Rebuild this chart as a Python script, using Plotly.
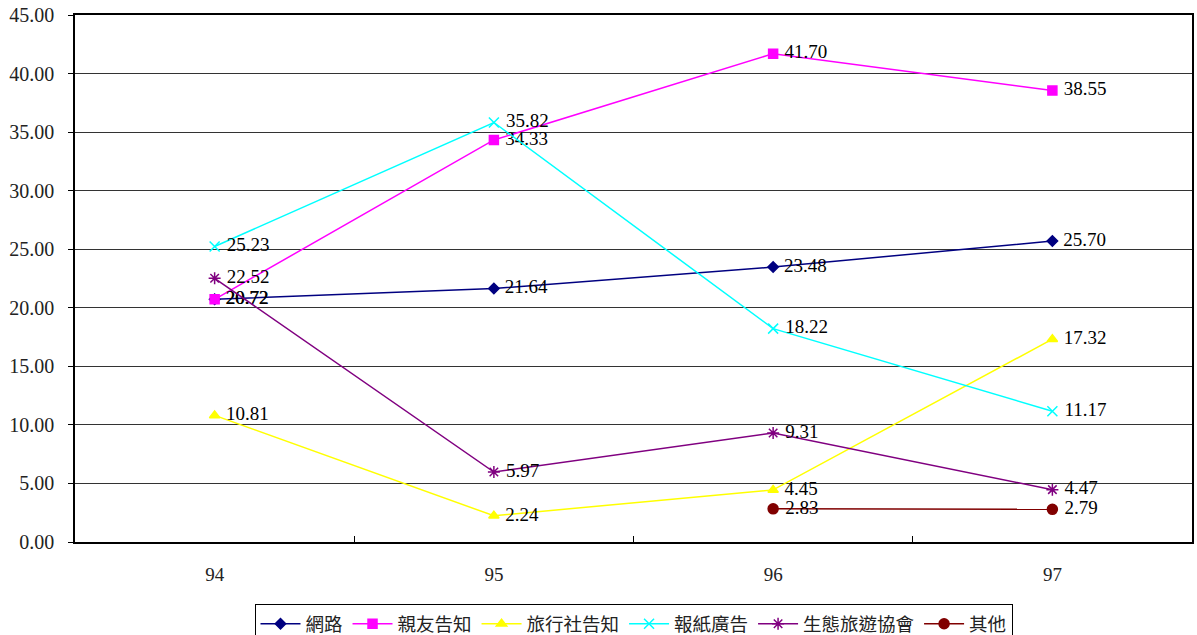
import plotly.graph_objects as go

years = ["94", "95", "96", "97"]
series_names = ["網路", "親友告知", "旅行社告知", "報紙廣告", "生態旅遊協會", "其他"]
wanglu = [20.72, 21.64, 23.48, 25.70]
qinyou = [20.72, 34.33, 41.70, 38.55]
lvxingshe = [10.81, 2.24, 4.45, 17.32]
baozhi = [25.23, 35.82, 18.22, 11.17]
shengtai = [22.52, 5.97, 9.31, 4.47]
qita = [None, None, 2.83, 2.79]
y_ticks = [0, 5, 10, 15, 20, 25, 30, 35, 40, 45]

colors = ["#000080", "#FF00FF", "#FFFF00", "#00FFFF", "#800080", "#800000"]
symbols = ["diamond", "square", "triangle-up", "x-thin-open", "asterisk-open", "circle"]
sizes = [8, 9, 9, 10, 10, 10]
data = [wanglu, qinyou, lvxingshe, baozhi, shengtai, qita]

SERIF = "Liberation Serif, DejaVu Serif, serif"

fig = go.Figure()
for name, vals, c, s, sz in zip(series_names, data, colors, symbols, sizes):
    fig.add_trace(go.Scatter(
        x=years, y=vals, name=name, mode="lines+markers+text",
        line=dict(color=c, width=1.5),
        marker=dict(symbol=s, color=c, size=sz, line=dict(color=c, width=1.5)),
        text=[(" %.2f" % v) if v is not None else "" for v in vals],
        textposition="middle right",
        textfont=dict(family=SERIF, size=19, color="black"),
        connectgaps=False,
    ))

fig.update_layout(
    width=1197, height=635,
    margin=dict(l=75, r=5, t=15, b=93, autoexpand=False),
    paper_bgcolor="white", plot_bgcolor="white",
    font=dict(family=SERIF, size=18, color="black"),
    showlegend=True,
    legend=dict(
        orientation="h", x=0.5, xanchor="center", y=-0.118, yanchor="top",
        bordercolor="black", borderwidth=1,
        font=dict(family="Noto Sans CJK TC", size=18.5, color="#222"),
        itemwidth=40, tracegroupgap=0,
    ),
    xaxis=dict(
        type="category", range=[-0.5, 3.5],
        showline=True, linecolor="black", linewidth=1.5, mirror=True,
        ticks="inside", ticklen=6, tickcolor="black", tickson="boundaries",
        showgrid=False, tickfont=dict(family=SERIF, size=19, color="#222"),
        ticklabelstandoff=14,
    ),
    yaxis=dict(
        range=[0, 45], tickvals=y_ticks, tickformat=".2f",
        showline=True, linecolor="black", linewidth=1.5, mirror=True,
        ticks="outside", ticklen=5, tickcolor="black",
        showgrid=True, gridcolor="#333", gridwidth=1,
        zeroline=False, ticklabeloverflow="allow",
        ticklabelstandoff=10,
        tickfont=dict(family=SERIF, size=20, color="#222"),
    ),
)

fig.write_html("out.html", config={"displayModeBar": False},
               post_script="document.body.style.margin='0px';")
